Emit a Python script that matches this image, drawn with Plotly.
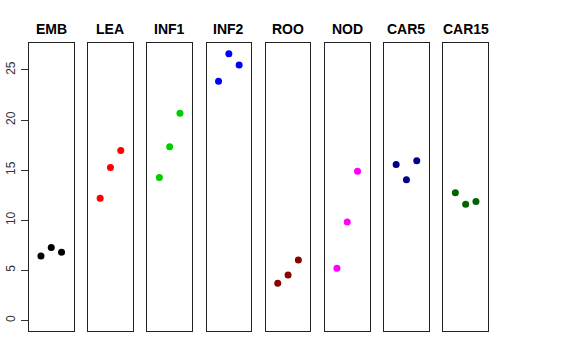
import plotly.graph_objects as go

groups = ["EMB", "LEA", "INF1", "INF2", "ROO", "NOD", "CAR5", "CAR15"]
colors = ["#000000", "#FF0000", "#00CD00", "#0000FF", "#8B0000", "#FF00FF", "#00008B", "#006400"]
replicate = [1, 2, 3]
EMB = [6.43, 7.27, 6.80]
LEA = [12.20, 15.27, 16.97]
INF1 = [14.27, 17.33, 20.67]
INF2 = [23.87, 26.63, 25.50]
ROO = [3.70, 4.53, 6.03]
NOD = [5.20, 9.83, 14.90]
CAR5 = [15.57, 14.03, 15.93]
CAR15 = [12.73, 11.60, 11.87]
values = [EMB, LEA, INF1, INF2, ROO, NOD, CAR5, CAR15]
y_ticks = [0, 5, 10, 15, 20, 25]

W, H = 576, 360
left0, width, step = 29, 44.5, 59.2
top_px, bot_px = 43, 331
ymax = max(max(v) for v in values)
pad = 0.04 * ymax
yrange = [-pad, ymax + pad]
xrange = [0 - 0.16, 4 + 0.16]

fig = go.Figure()
layout = {}
for i, (g, c, v) in enumerate(zip(groups, colors, values)):
    n = "" if i == 0 else str(i + 1)
    x0 = (left0 + i * step) / W
    x1 = (left0 + i * step + width) / W
    fig.add_trace(go.Scatter(
        x=replicate, y=v, mode="markers",
        marker=dict(color=c, size=7),
        xaxis="x" + n, yaxis="y" + n, showlegend=False,
        hoverinfo="y",
    ))
    layout["xaxis" + n] = dict(
        domain=[x0, x1], range=xrange, showgrid=False, zeroline=False,
        showticklabels=False, ticks="", showline=True, mirror=True,
        linecolor="#222", linewidth=1, anchor="y" + n, fixedrange=True,
        automargin=False,
    )
    ya = dict(
        domain=[1 - bot_px / H, 1 - top_px / H], range=yrange, showgrid=False,
        zeroline=False, showline=True, mirror=True, linecolor="#222", linewidth=1,
        anchor="x" + n, fixedrange=True, automargin=False,
    )
    if i == 0:
        ya.update(tickmode="array", tickvals=y_ticks, ticks="outside", ticklen=7,
                  tickcolor="#333", tickangle=-90, ticklabelstandoff=1,
                  tickfont=dict(family="Liberation Sans, Arial", size=12, color="#333"))
    else:
        ya.update(showticklabels=False, ticks="")
    layout["yaxis" + n] = ya
    fig.add_annotation(
        text="<b>%s</b>" % g, x=(x0 + x1) / 2, y=1 - 29 / H, xref="paper", yref="paper",
        showarrow=False, xanchor="center", yanchor="middle",
        font=dict(family="Liberation Sans, Arial", size=14, color="black"),
    )

fig.update_layout(
    width=W, height=H, margin=dict(l=0, r=0, t=0, b=0),
    paper_bgcolor="white", plot_bgcolor="white", **layout,
)
fig.write_html("out.html", config={"displayModeBar": False},
               post_script="document.body.style.margin='0';")
